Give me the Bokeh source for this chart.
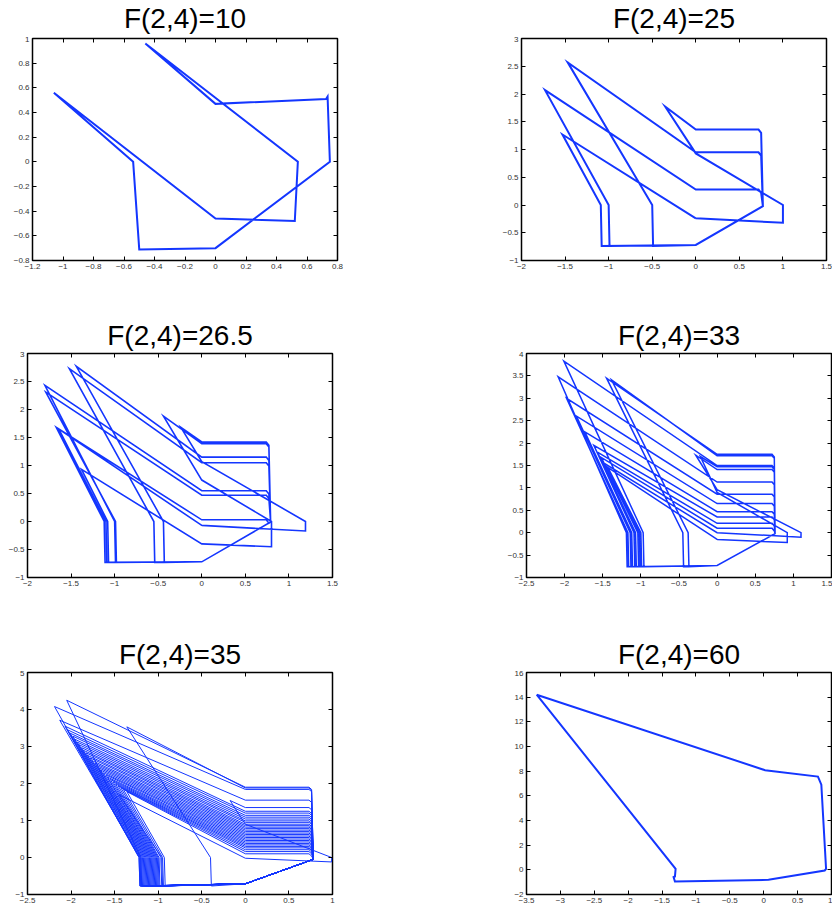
from bokeh.plotting import figure
from bokeh.models import Range1d, FixedTicker, LinearAxis, Label
from bokeh.layouts import column, row
from bokeh.embed import file_html
from bokeh.resources import INLINE

BLUE = "#1436ff"

# ---------------- titles ----------------
TITLES = ["F(2,4)=10", "F(2,4)=25", "F(2,4)=26.5", "F(2,4)=33", "F(2,4)=35", "F(2,4)=60"]

# ---------------- tick values / labels ----------------
P1_XTICKS = [-1.2, -1.0, -0.8, -0.6, -0.4, -0.2, 0.0, 0.2, 0.4, 0.6, 0.8]
P1_XLABELS = ["−1.2", "−1", "−0.8", "−0.6", "−0.4", "−0.2", "0", "0.2", "0.4", "0.6", "0.8"]
P1_YTICKS = [-0.8, -0.6, -0.4, -0.2, 0.0, 0.2, 0.4, 0.6, 0.8, 1.0]
P1_YLABELS = ["−0.8", "−0.6", "−0.4", "−0.2", "0", "0.2", "0.4", "0.6", "0.8", "1"]

P23_XTICKS = [-2.0, -1.5, -1.0, -0.5, 0.0, 0.5, 1.0, 1.5]
P23_XLABELS = ["−2", "−1.5", "−1", "−0.5", "0", "0.5", "1", "1.5"]
P23_YTICKS = [-1.0, -0.5, 0.0, 0.5, 1.0, 1.5, 2.0, 2.5, 3.0]
P23_YLABELS = ["−1", "−0.5", "0", "0.5", "1", "1.5", "2", "2.5", "3"]

P4_XTICKS = [-2.5, -2.0, -1.5, -1.0, -0.5, 0.0, 0.5, 1.0, 1.5]
P4_XLABELS = ["−2.5", "−2", "−1.5", "−1", "−0.5", "0", "0.5", "1", "1.5"]
P4_YTICKS = [-1.0, -0.5, 0.0, 0.5, 1.0, 1.5, 2.0, 2.5, 3.0, 3.5, 4.0]
P4_YLABELS = ["−1", "−0.5", "0", "0.5", "1", "1.5", "2", "2.5", "3", "3.5", "4"]

P5_XTICKS = [-2.5, -2.0, -1.5, -1.0, -0.5, 0.0, 0.5, 1.0]
P5_XLABELS = ["−2.5", "−2", "−1.5", "−1", "−0.5", "0", "0.5", "1"]
P5_YTICKS = [-1.0, 0.0, 1.0, 2.0, 3.0, 4.0, 5.0]
P5_YLABELS = ["−1", "0", "1", "2", "3", "4", "5"]

P6_XTICKS = [-3.5, -3.0, -2.5, -2.0, -1.5, -1.0, -0.5, 0.0, 0.5, 1.0]
P6_XLABELS = ["−3.5", "−3", "−2.5", "−2", "−1.5", "−1", "−0.5", "0", "0.5", "1"]
P6_YTICKS = [-2.0, 0.0, 2.0, 4.0, 6.0, 8.0, 10.0, 12.0, 14.0, 16.0]
P6_YLABELS = ["−2", "0", "2", "4", "6", "8", "10", "12", "14", "16"]

# ---------------- trajectories ----------------
# F = 10 : one closed orbit
P1_X = [-1.06, -0.54, -0.50, 0.00, 0.75, 0.735, 0.725, 0.00, -0.46, 0.54, 0.52, 0.00, -1.06]
P1_Y = [0.56, 0.00, -0.71, -0.70, 0.00, 0.53, 0.51, 0.47, 0.96, 0.00, -0.48, -0.46, 0.56]

# F = 60 : one closed orbit
P6_X = [-3.35, -1.30, -1.31, -1.33, -1.31, 0.07, 0.90, 0.92, 0.85, 0.80, 0.02, -3.35]
P6_Y = [14.2, 0.08, -0.54, -0.59, -0.94, -0.81, -0.05, 0.08, 6.9, 7.56, 8.08, 14.2]

# Loops of the orbits for F = 25, 26.5, 33, 35.
# level: height where the orbit reaches x = 0 moving left; apex: turning point;
# drop: x where a big loop meets y = 0 (None = small loop, see *_SM_* lists)
P2_LEVEL = [-0.24, 0.28, 0.95, 1.36]
P2_APEX_X = [-1.53, -1.73, -1.47, -0.35]
P2_APEX_Y = [1.27, 2.07, 2.57, 1.77]
P2_DROP = [-1.09, -1.00, -0.50, None]
P2_SM_CROSS = [0.93]
P2_SM_BOX_X = [1.00]
P2_SM_BOX_Y = [-0.32]

P3_LEVEL = [-0.07, 0.55, 1.15, 1.39, -0.40, 0.03, 0.47, 1.05, 1.42]
P3_APEX_X = [-1.67, -1.80, -1.44, -0.44, -1.38, -1.64, -1.79, -1.52, -0.24]
P3_APEX_Y = [1.68, 2.43, 2.77, 1.88, 0.93, 1.65, 2.31, 2.73, 1.68]
P3_DROP = [-1.12, -1.00, -0.44, None, -1.08, -1.10, -0.99, -0.55, None]
P3_SM_CROSS = [0.74, 1.07]
P3_SM_BOX_X = [0.80, 1.19]
P3_SM_BOX_Y = [-0.45, -0.17]

P4_LEVEL = [-0.15, 0.21, 0.47, 0.65, 1.50, 1.75, 1.41, 0.00, 0.10, 0.35, 0.86, 1.13, 1.72, 1.47]
P4_APEX_X = [-1.43, -1.57, -1.735, -1.844, -2.01, -1.45, -0.28, -1.48, -1.52, -1.617, -1.975, -2.085, -1.385, -0.22]
P4_APEX_Y = [1.45, 1.80, 2.25, 2.60, 3.83, 3.45, 1.73, 1.55, 1.68, 1.95, 3.00, 3.48, 3.41, 1.70]
P4_DROP = [-1.00, -1.07, -1.12, -1.14, -0.97, -0.45, None, -1.02, -1.04, -1.09, -1.17, -1.19, -0.38, None]
P4_SM_CROSS = [0.96, 0.90]
P4_SM_BOX_X = [1.10, 0.92]
P4_SM_BOX_Y = [-0.10, -0.22]

P5_LEVEL = [1.90, 1.84, 1.55,
            1.25, 1.20, 1.14, 1.09, 1.04, 0.99, 0.95, 0.90, 0.86, 0.82, 0.78, 0.74, 0.70, 0.66,
            0.62, 0.58, 0.54, 0.50, 0.46, 0.42, 0.38, 0.34, 0.30, 0.26, 0.21, 0.16, 0.10,
            1.88, 1.35, -0.02]
P5_APEX_X = [-2.05, -2.19, -2.13,
             -2.07, -2.04, -2.01, -1.98, -1.96, -1.93, -1.91, -1.88, -1.86, -1.83, -1.81, -1.78, -1.76, -1.73,
             -1.71, -1.68, -1.66, -1.63, -1.60, -1.58, -1.55, -1.52, -1.49, -1.46, -1.43, -1.40, -1.36,
             -1.36, -0.175, -1.45]
P5_APEX_Y = [4.25, 4.08, 3.71,
             3.55, 3.45, 3.36, 3.28, 3.20, 3.12, 3.05, 2.97, 2.90, 2.83, 2.76, 2.69, 2.62, 2.55,
             2.49, 2.42, 2.36, 2.29, 2.23, 2.17, 2.11, 2.05, 1.99, 1.94, 1.89, 1.84, 1.78,
             3.53, 1.54, 1.70]
P5_DROP = [-1.20, -1.22, -1.21,
           -1.22, -1.21, -1.20, -1.19, -1.18, -1.17, -1.16, -1.15, -1.14, -1.13, -1.12, -1.11, -1.10, -1.09,
           -1.08, -1.07, -1.06, -1.05, -1.04, -1.03, -1.02, -1.01, -1.00, -0.99, -0.97, -0.95, -0.93,
           -0.40, None, -0.96]
P5_SM_CROSS = [0.90]
P5_SM_BOX_X = [0.99]
P5_SM_BOX_Y = [-0.12]

# shared corners of each orbit: bottom y, y at x=0 on bottom, end of rising diagonal, right wall x
P2_CORNERS = (-0.74, -0.72, 0.77, -0.02, 0.75)
P3_CORNERS = (-0.73, -0.72, 0.79, -0.01, 0.77)
P4_CORNERS = (-0.76, -0.73, 0.76, -0.02, 0.75)
P5_CORNERS = (-0.77, -0.71, 0.78, -0.05, 0.76)


def orbit(level, apex_x, apex_y, drop, sm_cross, sm_bx, sm_by, corners):
    bottom_y, corner_y, diag_x, diag_y, right_x = corners
    xs, ys = [], []
    k = 0
    n = len(level)
    for i in range(n):
        nxt = level[(i + 1) % n]
        xs += [0.0, apex_x[i]]
        ys += [level[i], apex_y[i]]
        if drop[i] is None:
            xs += [0.0, sm_bx[k], sm_bx[k]]
            ys += [sm_cross[k], 0.0, sm_by[k]]
            k += 1
        else:
            xs += [drop[i], drop[i] + 0.01, 0.0, diag_x, right_x, right_x - 0.03]
            ys += [0.0, bottom_y, corner_y, diag_y, nxt - 0.06, nxt]
    xs.append(0.0)
    ys.append(level[0])
    return xs, ys


def title_band(text, w, h, bl, br, base):
    t = figure(width=w, height=h, x_range=Range1d(0, 1), y_range=Range1d(0, h),
               x_axis_type=None, y_axis_type=None, output_backend="svg", toolbar_location=None,
               min_border_left=bl, min_border_right=br, min_border_top=0, min_border_bottom=0)
    t.outline_line_color = None
    t.background_fill_color = "white"
    t.border_fill_color = "white"
    t.add_layout(Label(x=0.5, y=base, text=text, text_align="center", text_baseline="alphabetic",
                       text_font="Liberation Sans", text_font_size="28px", text_color="black"))
    return t


def panel(xr, yr, xt, xl, yt, yl, xs, ys, lw, w, h, bl, br, bt, bb):
    p = figure(width=w, height=h, x_range=Range1d(xr[0], xr[1]), y_range=Range1d(yr[0], yr[1]),
               x_axis_type=None, y_axis_type=None, output_backend="svg", toolbar_location=None,
               min_border_left=bl, min_border_right=br, min_border_top=bt, min_border_bottom=bb)
    p.outline_line_color = "black"
    p.outline_line_width = 1.5
    p.outline_line_alpha = 1.0
    p.background_fill_color = "white"
    p.border_fill_color = "white"
    for loc, ticks, labels in (("below", xt, xl), ("left", yt, yl), ("above", xt, None), ("right", yt, None)):
        ax = LinearAxis(ticker=FixedTicker(ticks=ticks), axis_line_color=None,
                        major_tick_in=4, major_tick_out=0, minor_tick_in=0, minor_tick_out=0,
                        major_tick_line_color="black", major_tick_line_width=1)
        if labels is not None:
            ax.major_label_overrides = {t: s for t, s in zip(ticks, labels)}
            ax.major_label_text_font = "Liberation Sans"
            ax.major_label_text_font_size = "8px"
            ax.major_label_text_color = "#333333"
            ax.major_label_standoff = 3
        else:
            ax.major_label_overrides = {t: "" for t in ticks}
            ax.major_label_text_font_size = "0px"
            ax.major_label_text_color = None
            ax.major_label_standoff = 0
        p.add_layout(ax, loc)
    p.line(xs, ys, line_color=BLUE, line_width=lw, line_join="miter")
    return p


x2, y2 = orbit(P2_LEVEL, P2_APEX_X, P2_APEX_Y, P2_DROP, P2_SM_CROSS, P2_SM_BOX_X, P2_SM_BOX_Y, P2_CORNERS)
x3, y3 = orbit(P3_LEVEL, P3_APEX_X, P3_APEX_Y, P3_DROP, P3_SM_CROSS, P3_SM_BOX_X, P3_SM_BOX_Y, P3_CORNERS)
x4, y4 = orbit(P4_LEVEL, P4_APEX_X, P4_APEX_Y, P4_DROP, P4_SM_CROSS, P4_SM_BOX_X, P4_SM_BOX_Y, P4_CORNERS)
x5, y5 = orbit(P5_LEVEL, P5_APEX_X, P5_APEX_Y, P5_DROP, P5_SM_CROSS, P5_SM_BOX_X, P5_SM_BOX_Y, P5_CORNERS)

# row 1  (title band 0-36, frame 38-260)
t1 = title_band(TITLES[0], 430, 36, 32, 93, 18)
t2 = title_band(TITLES[1], 402, 36, 91, 6, 18)
p1 = panel((-1.2, 0.8), (-0.8, 1.0), P1_XTICKS, P1_XLABELS, P1_YTICKS, P1_YLABELS,
           P1_X, P1_Y, 2.0, 430, 264, 32, 93, 2, 40)
p2 = panel((-2.0, 1.5), (-1.0, 3.0), P23_XTICKS, P23_XLABELS, P23_YTICKS, P23_YLABELS,
           x2, y2, 2.0, 402, 264, 91, 6, 2, 40)
# row 2  (title band 300-351, frame 353-577)
t3 = title_band(TITLES[2], 430, 51, 27, 98, 16)
t4 = title_band(TITLES[3], 402, 51, 96, 1, 16)
p3 = panel((-2.0, 1.5), (-1.0, 3.0), P23_XTICKS, P23_XLABELS, P23_YTICKS, P23_YLABELS,
           x3, y3, 1.6, 430, 267, 27, 98, 2, 41)
p4 = panel((-2.5, 1.5), (-1.0, 4.0), P4_XTICKS, P4_XLABELS, P4_YTICKS, P4_YLABELS,
           x4, y4, 1.5, 402, 267, 96, 1, 2, 41)
# row 3  (title band 618-670, frame 672-894)
t5 = title_band(TITLES[4], 430, 52, 27, 98, 16)
t6 = title_band(TITLES[5], 402, 52, 96, 1, 16)
p5 = panel((-2.5, 1.0), (-1.0, 5.0), P5_XTICKS, P5_XLABELS, P5_YTICKS, P5_YLABELS,
           x5, y5, 1.0, 430, 237, 27, 98, 2, 13)
p6 = panel((-3.5, 1.0), (-2.0, 16.0), P6_XTICKS, P6_XLABELS, P6_YTICKS, P6_YLABELS,
           P6_X, P6_Y, 2.0, 402, 237, 96, 1, 2, 13)

layout = column(row(t1, t2, spacing=0), row(p1, p2, spacing=0),
                row(t3, t4, spacing=0), row(p3, p4, spacing=0),
                row(t5, t6, spacing=0), row(p5, p6, spacing=0), spacing=0)

open("out.html", "w").write(file_html(layout, INLINE))
